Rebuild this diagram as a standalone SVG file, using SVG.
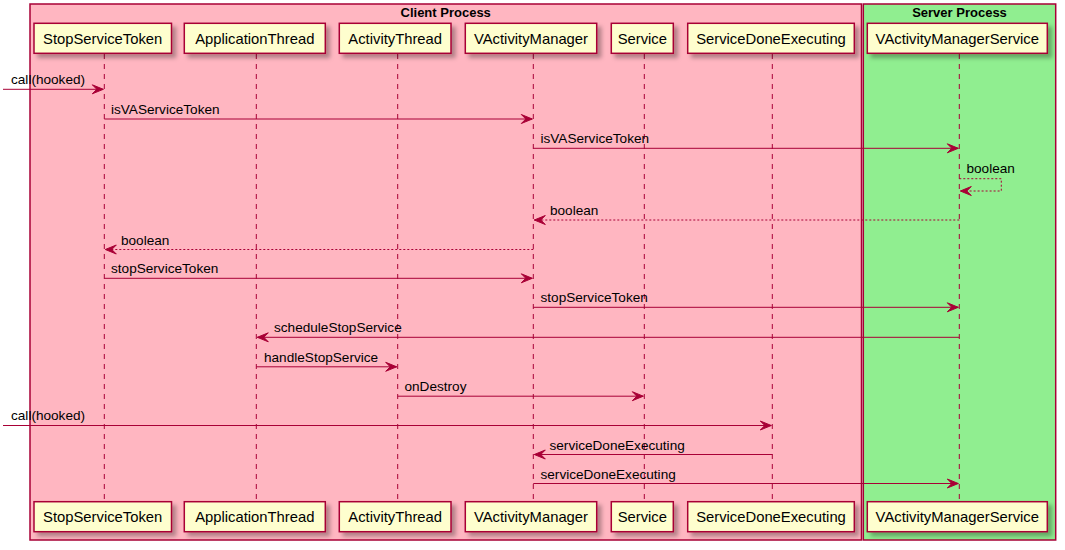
<svg xmlns="http://www.w3.org/2000/svg" width="1065" height="550" viewBox="0 0 1065 550">
<style>
.grp{stroke:#A80036;stroke-width:1.5}
.gt{font-family:"Liberation Sans",Arial,sans-serif;font-size:13px;font-weight:bold;fill:#000;text-anchor:middle}
.pb{fill:#FEFECE;stroke:#A80036;stroke-width:1.5;filter:url(#sh)}
.pt{font-family:"Liberation Sans",Arial,sans-serif;font-size:14.8px;fill:#000;text-anchor:middle}
.ll{stroke:#A80036;stroke-width:1;stroke-dasharray:5,5;fill:none}
.m{stroke:#A80036;stroke-width:1;fill:none}
.r{stroke:#A80036;stroke-width:1;fill:none;stroke-dasharray:2,2}
.ml{font-family:"Liberation Sans",Arial,sans-serif;font-size:13.6px;fill:#000}
</style>
<defs>
<filter id="sh" x="-10%" y="-20%" width="130%" height="160%">
<feDropShadow dx="4" dy="4" stdDeviation="2" flood-color="#000" flood-opacity="0.3"/>
</filter>
<marker id="ah" viewBox="-1 -1 13 11" refX="11" refY="4.5" markerWidth="13" markerHeight="11" markerUnits="userSpaceOnUse" orient="auto">
<polygon points="11,4.5 0,0 4.5,4.5 0,9" fill="#A80036" stroke="#A80036" stroke-width="1" stroke-linejoin="miter"/>
</marker>
</defs>
<rect width="1065" height="550" fill="#FFFFFF"/>
<g id="client-process">
<rect class="grp" x="30" y="4" width="831.5" height="536" fill="#FFB6C1"/>
<text class="gt" x="445.7" y="17">Client Process</text>
</g>
<g id="server-process">
<rect class="grp" x="863.3" y="4" width="192.4" height="536" fill="#90EE90"/>
<text class="gt" x="959.5" y="17">Server Process</text>
</g>
<g id="lifelines">
<line class="ll" x1="104.3" y1="54" x2="104.3" y2="502"/>
<line class="ll" x1="256.3" y1="54" x2="256.3" y2="502"/>
<line class="ll" x1="397.7" y1="54" x2="397.7" y2="502"/>
<line class="ll" x1="533.3" y1="54" x2="533.3" y2="502"/>
<line class="ll" x1="644.3" y1="54" x2="644.3" y2="502"/>
<line class="ll" x1="772.3" y1="54" x2="772.3" y2="502"/>
<line class="ll" x1="959.3" y1="54" x2="959.3" y2="502"/>
</g>
<g id="StopServiceToken">
<rect class="pb" x="34" y="23.3" width="137.5" height="30"/>
<text class="pt" x="102.7" y="43.5">StopServiceToken</text>
<rect class="pb" x="34" y="501.7" width="137.5" height="30"/>
<text class="pt" x="102.7" y="522">StopServiceToken</text>
</g>
<g id="ApplicationThread">
<rect class="pb" x="184.3" y="23.3" width="141" height="30"/>
<text class="pt" x="254.8" y="43.5">ApplicationThread</text>
<rect class="pb" x="184.3" y="501.7" width="141" height="30"/>
<text class="pt" x="254.8" y="522">ApplicationThread</text>
</g>
<g id="ActivityThread">
<rect class="pb" x="339.3" y="23.3" width="111.7" height="30"/>
<text class="pt" x="395.2" y="43.5">ActivityThread</text>
<rect class="pb" x="339.3" y="501.7" width="111.7" height="30"/>
<text class="pt" x="395.2" y="522">ActivityThread</text>
</g>
<g id="VActivityManager">
<rect class="pb" x="465.3" y="23.3" width="131.4" height="30"/>
<text class="pt" x="531" y="43.5">VActivityManager</text>
<rect class="pb" x="465.3" y="501.7" width="131.4" height="30"/>
<text class="pt" x="531" y="522">VActivityManager</text>
</g>
<g id="Service">
<rect class="pb" x="611.3" y="23.3" width="62" height="30"/>
<text class="pt" x="642.3" y="43.5">Service</text>
<rect class="pb" x="611.3" y="501.7" width="62" height="30"/>
<text class="pt" x="642.3" y="522">Service</text>
</g>
<g id="ServiceDoneExecuting">
<rect class="pb" x="687.7" y="23.3" width="166.6" height="30"/>
<text class="pt" x="771" y="43.5">ServiceDoneExecuting</text>
<rect class="pb" x="687.7" y="501.7" width="166.6" height="30"/>
<text class="pt" x="771" y="522">ServiceDoneExecuting</text>
</g>
<g id="VActivityManagerService">
<rect class="pb" x="867.3" y="23.3" width="180" height="30"/>
<text class="pt" x="957.3" y="43.5">VActivityManagerService</text>
<rect class="pb" x="867.3" y="501.7" width="180" height="30"/>
<text class="pt" x="957.3" y="522">VActivityManagerService</text>
</g>
<g id="connectors">
<line class="m" x1="3" y1="89.3" x2="103.3" y2="89.3" marker-end="url(#ah)"/>
<text class="ml" x="11" y="83.5">call(hooked)</text>
<line class="m" x1="104.3" y1="119" x2="532.3" y2="119" marker-end="url(#ah)"/>
<text class="ml" x="111" y="113.5">isVAServiceToken</text>
<line class="m" x1="533.3" y1="148.3" x2="958.3" y2="148.3" marker-end="url(#ah)"/>
<text class="ml" x="540.5" y="143">isVAServiceToken</text>
<polyline class="r" points="959.3,178.7 1001.3,178.7 1001.3,191 960.3,191" marker-end="url(#ah)"/>
<text class="ml" x="966.5" y="172.7">boolean</text>
<line class="r" x1="959.3" y1="220" x2="534.3" y2="220" marker-end="url(#ah)"/>
<text class="ml" x="550" y="215">boolean</text>
<line class="r" x1="533.3" y1="249.5" x2="105.3" y2="249.5" marker-end="url(#ah)"/>
<text class="ml" x="121" y="244.5">boolean</text>
<line class="m" x1="104.3" y1="278.3" x2="532.3" y2="278.3" marker-end="url(#ah)"/>
<text class="ml" x="111" y="273">stopServiceToken</text>
<line class="m" x1="533.3" y1="307.3" x2="958.3" y2="307.3" marker-end="url(#ah)"/>
<text class="ml" x="540.5" y="302.3">stopServiceToken</text>
<line class="m" x1="959.3" y1="337.3" x2="257.3" y2="337.3" marker-end="url(#ah)"/>
<text class="ml" x="274" y="332.3">scheduleStopService</text>
<line class="m" x1="256.3" y1="366.8" x2="396.7" y2="366.8" marker-end="url(#ah)"/>
<text class="ml" x="264" y="361.8">handleStopService</text>
<line class="m" x1="397.7" y1="396.2" x2="643.3" y2="396.2" marker-end="url(#ah)"/>
<text class="ml" x="404.5" y="391.2">onDestroy</text>
<line class="m" x1="3" y1="425.5" x2="771.3" y2="425.5" marker-end="url(#ah)"/>
<text class="ml" x="11" y="420.3">call(hooked)</text>
<line class="m" x1="772.3" y1="454.5" x2="534.3" y2="454.5" marker-end="url(#ah)"/>
<text class="ml" x="549.5" y="449.5">serviceDoneExecuting</text>
<line class="m" x1="533.3" y1="483.5" x2="958.3" y2="483.5" marker-end="url(#ah)"/>
<text class="ml" x="540.5" y="478.5">serviceDoneExecuting</text>
</g>
</svg>
